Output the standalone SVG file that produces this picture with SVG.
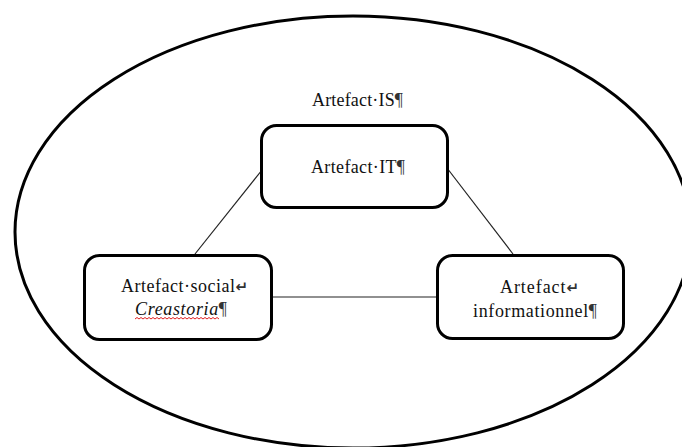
<svg xmlns="http://www.w3.org/2000/svg" width="682" height="447" viewBox="0 0 682 447">
<style>
.box{fill:#fff;stroke:#000;stroke-width:3}
.lbl{font-family:"Liberation Serif","Times New Roman",serif;font-size:18px;fill:#111}
.mark{fill:#333}
.arr{font-family:"DejaVu Sans",sans-serif;font-size:15px;font-weight:bold}
.conn{stroke:#222;stroke-width:1.2;fill:none}
</style>
<rect width="682" height="447" fill="#fff"/>
<g id="is">
<ellipse cx="353" cy="232" rx="338" ry="216" fill="none" stroke="#000" stroke-width="3"/>
<text class="lbl" x="312" y="106" textLength="91" lengthAdjust="spacing">Artefact·IS<tspan class="mark">¶</tspan></text>
</g>
<g id="connectors">
<line class="conn" x1="262" y1="170" x2="195" y2="254"/>
<line class="conn" x1="447" y1="168" x2="513" y2="254"/>
<line class="conn" x1="272" y1="297" x2="437" y2="297"/>
</g>
<g id="it">
<rect class="box" x="261.5" y="125.5" width="186" height="82" rx="15"/>
<text class="lbl" x="311" y="173" textLength="94" lengthAdjust="spacing">Artefact·IT<tspan class="mark">¶</tspan></text>
</g>
<g id="social">
<rect class="box" x="84.5" y="255.5" width="187" height="84" rx="15"/>
<text class="lbl" x="121" y="292" textLength="127" lengthAdjust="spacing">Artefact·social<tspan class="mark arr">↵</tspan></text>
<text class="lbl" x="135" y="315" textLength="92" lengthAdjust="spacing"><tspan font-style="italic">Creastoria</tspan><tspan class="mark">¶</tspan></text>
<path d="M135 319 l2 -1.5 l2 1.5 l2 -1.5 l2 1.5 l2 -1.5 l2 1.5 l2 -1.5 l2 1.5 l2 -1.5 l2 1.5 l2 -1.5 l2 1.5 l2 -1.5 l2 1.5 l2 -1.5 l2 1.5 l2 -1.5 l2 1.5 l2 -1.5 l2 1.5 l2 -1.5 l2 1.5 l2 -1.5 l2 1.5 l2 -1.5 l2 1.5 l2 -1.5 l2 1.5 l2 -1.5 l2 1.5 l2 -1.5 l2 1.5 l2 -1.5 l2 1.5 l2 -1.5 l2 1.5 l2 -1.5 l2 1.5 l2 -1.5 l2 1.5 l2 -1.5 l2 1.5" fill="none" stroke="#e02020" stroke-width="1"/>
</g>
<g id="info">
<rect class="box" x="437.5" y="255.5" width="186" height="83" rx="15"/>
<text class="lbl" x="500" y="293" textLength="79" lengthAdjust="spacing">Artefact<tspan class="mark arr">↵</tspan></text>
<text class="lbl" x="473" y="317" textLength="124" lengthAdjust="spacing">informationnel<tspan class="mark">¶</tspan></text>
</g>
</svg>
